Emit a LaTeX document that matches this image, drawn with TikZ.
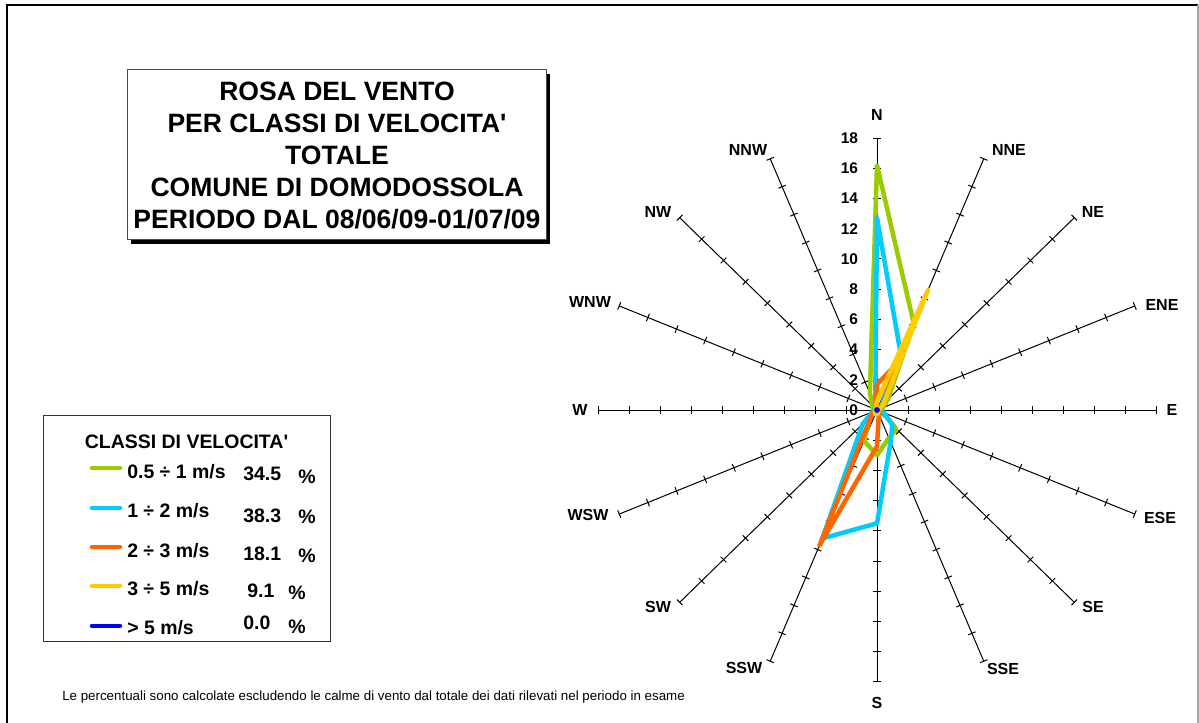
\documentclass[tikz,border=0pt]{standalone}
\usepackage{fontspec}
\setmainfont{Liberation Sans}
\newfontfamily\chartfont{Liberation Sans}
\usepackage{tikz}

\definecolor{classgreen}{RGB}{153,204,0}
\definecolor{classcyan}{RGB}{0,204,255}
\definecolor{classorange}{RGB}{255,102,0}
\definecolor{classyellow}{RGB}{255,204,0}
\definecolor{classblue}{RGB}{0,0,255}

\tikzset{
  rosebase/.style={line width=0.75pt},
  classline/.style={line width=3.4pt, line join=round, line cap=round},
  dirlabel/.style={inner sep=0pt, font=\chartfont\bfseries\fontsize{12}{14}\selectfont},
  scalelabel/.style={inner sep=0pt, anchor=east, font=\chartfont\bfseries\fontsize{11.6}{14}\selectfont},
  legendtext/.style={inner sep=0pt, anchor=base west, font=\chartfont\bfseries\fontsize{14.6}{17}\selectfont}
}

\begin{document}
\begin{tikzpicture}[x=0.75pt, y=-0.75pt]
\useasboundingbox (0,0) rectangle (1199,723);
\draw [line width=1.5pt] (7,723) -- (7,5) -- (1198,5);
\draw [line width=1.2pt, black!35] (1198,5) -- (1198,723);

\fill [black] (131,74) rectangle (550,244);
\draw [fill=white, draw=black!70, line width=0.75pt] (127,70) rectangle (546,240);
\node (title) [align=center, inner sep=0pt, font=\chartfont\bfseries\fontsize{19.9}{24}\selectfont] at (337,156)
  {ROSA DEL VENTO\\PER CLASSI DI VELOCITA'\\TOTALE\\COMUNE DI DOMODOSSOLA\\PERIODO DAL 08/06/09-01/07/09};

\begin{scope}[shift={(877,410)}, x=11.625pt, y=11.33pt]
\foreach \a in {0,22.5,...,337.5} {
  \draw [rosebase] (0,0) -- (\a:18);
  \foreach \r in {2,4,...,18}
    \draw [rosebase, shift={(\a:\r)}] (\a+90:3pt) -- (\a-90:3pt);
}
\foreach \v in {0,2,...,18}
  \node (scale\v) [scalelabel] at ([xshift=-14pt]0,\v) {\v};

\draw [classline, classgreen] (90:16.2) -- (67.5:6.2) -- (45:1.0) -- (22.5:0.4) -- (0:0.3) -- (-22.5:0.4) -- (-45:1.8) -- (-67.5:2.0)
  -- (-90:3.0) -- (-112.5:2.2) -- (-135:0.6) -- (-157.5:0.3) -- (180:0.2) -- (157.5:0.3) -- (135:0.4) -- (112.5:1.2) -- cycle;
\draw [classline, classcyan] (90:12.7) -- (67.5:4.0) -- (45:0.4) -- (22.5:0.3) -- (0:0.3) -- (-22.5:0.5) -- (-45:1.4) -- (-67.5:2.3)
  -- (-90:7.5) -- (-112.5:9.2) -- (-135:1.3) -- (-157.5:0.3) -- (180:0.2) -- (157.5:0.2) -- (135:0.2) -- (112.5:0.3) -- cycle;
\draw [classline, classorange] (90:1.7) -- (67.5:3.3) -- (45:0.6) -- (22.5:0.2) -- (0:0.1) -- (-22.5:0.1) -- (-45:0.2) -- (-67.5:0.3)
  -- (-90:2.4) -- (-112.5:9.7) -- (-135:0.5) -- (-157.5:0.2) -- (180:0.1) -- (157.5:0.1) -- (135:0.1) -- (112.5:0.2) -- cycle;
\draw [classline, classyellow] (90:0.6) -- (67.5:8.6) -- (45:0.6) -- (22.5:0.2) -- (0:0.1) -- (-22.5:0.1) -- (-45:0.1) -- (-67.5:0.2)
  -- (-90:0.3) -- (-112.5:0.3) -- (-135:0.2) -- (-157.5:0.1) -- (180:0.1) -- (157.5:0.1) -- (135:0.1) -- (112.5:0.2) -- cycle;
\fill [classblue] (0,0) circle (2.2pt);
\end{scope}

\foreach \d/\x/\y in {N/877/115, NNE/1009/150, NE/1093/212, ENE/1162/305, E/1172/410, ESE/1160/518, SE/1093/607, SSE/1003/669,
    S/877/703, SSW/744/668, SW/658/607, WSW/588/515, W/580/410, WNW/590/302, NW/658/212, NNW/748/150}
  \node (dir\d) [dirlabel] at (\x,\y) {\d};

\draw [draw=black!80, line width=0.75pt] (43,415) rectangle (330,641);
\node (legendhead) [legendtext, anchor=base] at (186.5,448.5) {CLASSI DI VELOCITA'};
\draw [classline, classgreen] (92,468) -- (120,468);
\draw [classline, classcyan] (92,508) -- (120,508);
\draw [classline, classorange] (92,547) -- (120,547);
\draw [classline, classyellow] (92,586) -- (120,586);
\draw [classline, classblue] (92,626) -- (120,626);
\node (class1) [legendtext] at (127,478.5) {0.5 ÷ 1 m/s};
\node (class2) [legendtext] at (127,517.7) {1 ÷ 2 m/s};
\node (class3) [legendtext] at (127,557) {2 ÷ 3 m/s};
\node (class4) [legendtext] at (127,595) {3 ÷ 5 m/s};
\node (class5) [legendtext] at (127,634.7) {> 5 m/s};
\node (perc1) [legendtext] at (243,480) {34.5};
\node (perc2) [legendtext] at (243,522) {38.3};
\node (perc3) [legendtext] at (243,560) {18.1};
\node (perc4) [legendtext] at (247,597.7) {9.1};
\node (perc5) [legendtext] at (243,629.7) {0.0};
\node (unit1) [legendtext] at (298,483.7) {\%};
\node (unit2) [legendtext] at (298,523.7) {\%};
\node (unit3) [legendtext] at (298,562) {\%};
\node (unit4) [legendtext] at (288,599.7) {\%};
\node (unit5) [legendtext] at (288,633.7) {\%};

\node (note) [inner sep=0pt, anchor=west, font=\chartfont\fontsize{10}{12}\selectfont] at (62,697)
  {Le percentuali sono calcolate escludendo le calme di vento dal totale dei dati rilevati nel periodo in esame};
\end{tikzpicture}
\end{document}
